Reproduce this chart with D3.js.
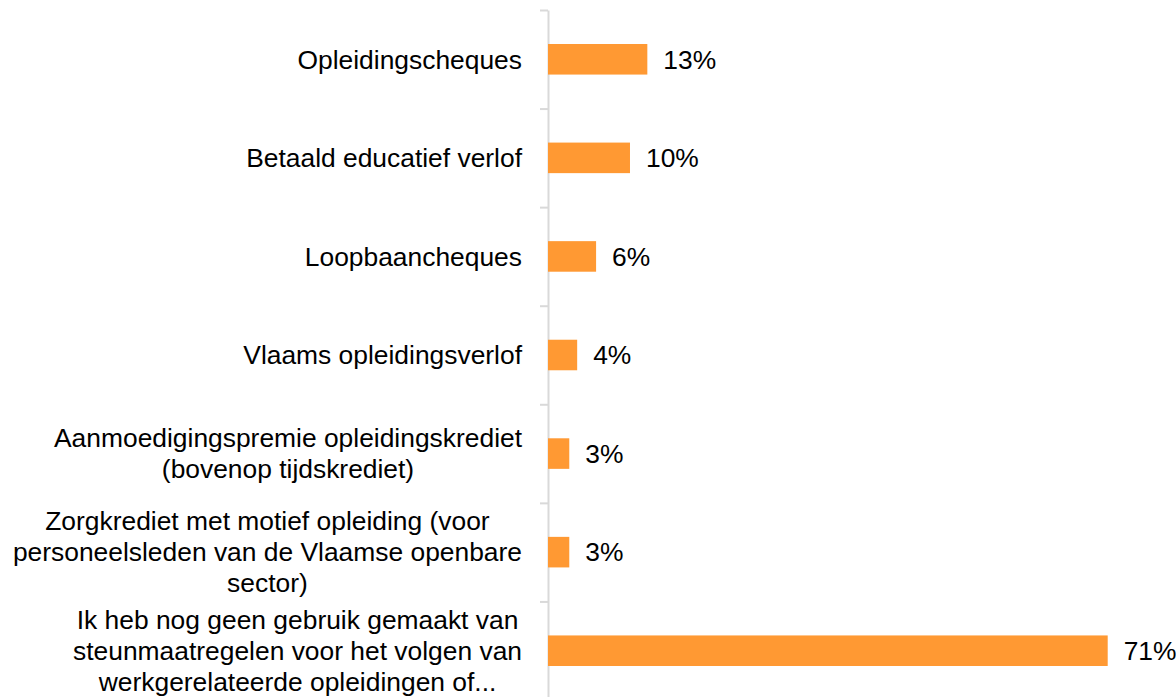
<!DOCTYPE html>
<html>
<head>
<meta charset="utf-8">
<script src="https://cdn.jsdelivr.net/npm/d3@7"></script>
<style>
  html, body { margin: 0; padding: 0; background: #fff; }
  svg text { font-family: "Liberation Sans", Arial, sans-serif; fill: #000; }
</style>
</head>
<body>
<svg id="chart"></svg>
<script>
// categories, one string per line of the label
const categories = [
    ['Opleidingscheques'],
    ['Betaald educatief verlof'],
    ['Loopbaancheques'],
    ['Vlaams opleidingsverlof'],
    ['Aanmoedigingspremie opleidingskrediet', '(bovenop tijdskrediet)'],
    ['Zorgkrediet met motief opleiding (voor', 'personeelsleden van de Vlaamse openbare', 'sector)'],
    ['Ik heb nog geen gebruik gemaakt van', 'steunmaatregelen voor het volgen van', 'werkgerelateerde opleidingen of...']
];
const values = [0.126, 0.104, 0.061, 0.037, 0.027, 0.027, 0.71];

const width = 1176, height = 697;
const margin = { top: 10, right: 0, bottom: -3, left: 548 };
const label_right = 522;
const font_size = 26.4;
const line_height = 31;

const svg = d3.select('#chart')
    .attr('width', width)
    .attr('height', height);

const data = categories.map((c, i) => ({ key: i, lines: c, value: values[i] }));

const yscale = d3.scaleBand()
    .domain(data.map(d => d.key))
    .range([margin.top, height - margin.bottom])
    .paddingInner(0.69)
    .paddingOuter(0.345);

const xscale = d3.scaleLinear()
    .domain([0, 0.71])
    .range([margin.left, 1107.7]);

// band boundaries for the tick marks
const bscale = d3.scaleLinear()
    .domain([0, data.length])
    .range([margin.top, height - margin.bottom]);

const yaxis = d3.axisLeft(bscale)
    .tickValues(d3.range(0, data.length + 1))
    .tickFormat('')
    .tickSize(8)
    .tickSizeOuter(0);

const axis_g = svg.append('g')
    .attr('transform', `translate(${margin.left}, 0)`)
    .call(yaxis);
axis_g.selectAll('path, line')
    .attr('stroke', '#d9d9d9')
    .attr('stroke-width', 2);

svg.append('g')
    .selectAll('rect')
    .data(data)
    .join('rect')
    .attr('x', xscale(0))
    .attr('y', d => yscale(d.key))
    .attr('width', d => xscale(d.value) - xscale(0))
    .attr('height', yscale.bandwidth())
    .attr('fill', '#ff9933');

const fmt = d3.format('.0%');
svg.append('g')
    .selectAll('text')
    .data(data)
    .join('text')
    .attr('x', d => xscale(d.value) + 16)
    .attr('y', d => yscale(d.key) + yscale.bandwidth() / 2)
    .attr('dy', '0.35em')
    .attr('font-size', font_size)
    .text(d => fmt(d.value));

// category labels, lines centred on each other, block right-aligned
const labels = svg.append('g')
    .selectAll('text')
    .data(data)
    .join('text')
    .attr('font-size', font_size)
    .attr('text-anchor', 'middle');

labels.each(function(d) {
    const t = d3.select(this);
    const cy = yscale(d.key) + yscale.bandwidth() / 2;
    const n = d.lines.length;
    d.lines.forEach((line, j) => {
        t.append('tspan')
            .attr('y', cy + (j - (n - 1) / 2) * line_height)
            .attr('dy', '0.35em')
            .text(line);
    });
    let maxw = 0;
    t.selectAll('tspan').each(function() {
        maxw = Math.max(maxw, this.getComputedTextLength());
    });
    t.selectAll('tspan').attr('x', label_right - maxw / 2);
});
</script>
</body>
</html>
